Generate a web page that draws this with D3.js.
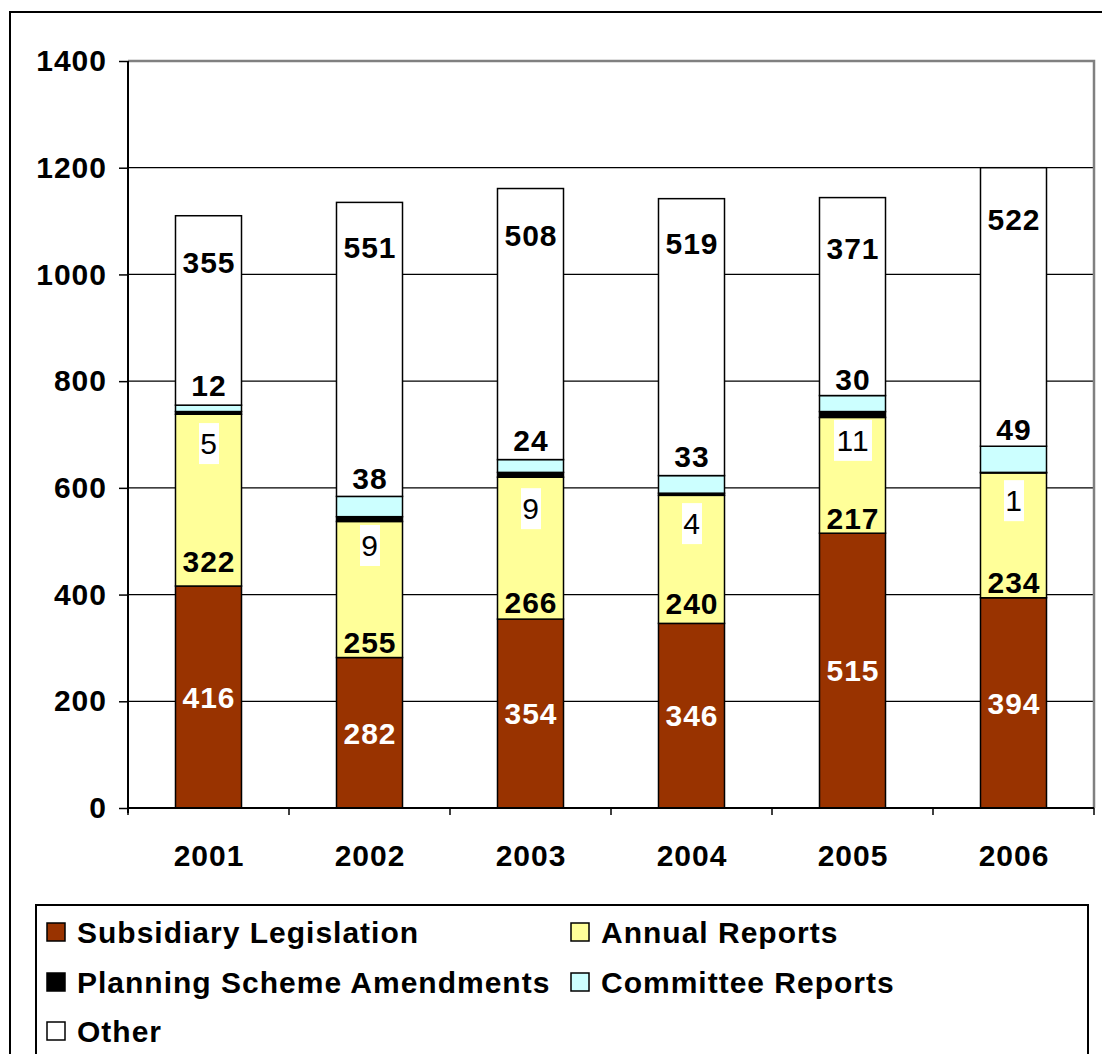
<!DOCTYPE html>
<html><head><meta charset="utf-8">
<script src="https://cdn.jsdelivr.net/npm/d3@7"></script>
<style>body{margin:0;background:#fff}svg{display:block}text{font-family:"Liberation Sans",Arial,sans-serif;letter-spacing:1px}</style>
</head><body><svg id="c" width="1102" height="1054"></svg>
<script>
const years = ["2001","2002","2003","2004","2005","2006"];
const seriesNames = ["Subsidiary Legislation","Annual Reports","Planning Scheme Amendments","Committee Reports","Other"];
const subsidiary = [416,282,354,346,515,394];
const annual = [322,255,266,240,217,234];
const planning = [5,9,9,4,11,1];
const committee = [12,38,24,33,30,49];
const other = [355,551,508,519,371,522];
// label anchor values (data units) as placed in the original chart
const annualLabelAt = [462,311,385,383,544,424];
const planningLabelAt = [683,492,561,533,689,576];
const committeeLabelAt = [792,619,689,659,803,709];
const otherLabelAt = [1023,1051,1073,1058,1049,1103];
const yTicks = [0,200,400,600,800,1000,1200,1400];
const colors = ["#993300","#FFFF99","#000000","#CCFFFF","#FFFFFF"];

const FS = 30;
const svg = d3.select("#c");
const m = {l:128, t:61, r:1094, b:808};
const x = d3.scaleBand().domain(years).range([m.l, m.r]).paddingInner(0.59).paddingOuter(0.295);
const xb = d3.scaleBand().domain(years).range([m.l, m.r]);
const y = d3.scaleLinear().domain([0,1400]).range([m.b, m.t]);

// outer frame
svg.append("rect").attr("x",10).attr("y",12).attr("width",1110).attr("height",1100)
  .attr("fill","#fff").attr("stroke","#000").attr("stroke-width",2);

// gridlines
svg.append("g").selectAll("line").data(yTicks.filter(d=>d>0&&d<1400)).join("line")
  .attr("x1",m.l).attr("x2",m.r).attr("y1",d=>y(d)).attr("y2",d=>y(d))
  .attr("stroke","#000").attr("stroke-width",1.2);
// plot border top/right (gray)
svg.append("path").attr("d",`M${m.l},${y(1400)}H${m.r}V${m.b}`).attr("fill","none")
  .attr("stroke","#808080").attr("stroke-width",2.5);

// stacked data
const table = years.map((yr,i)=>({year:yr, s0:subsidiary[i], s1:annual[i], s2:planning[i], s3:committee[i], s4:other[i]}));
const stack = d3.stack().keys(["s0","s1","s2","s3","s4"])(table);
const g = svg.append("g");
stack.forEach((layer,k)=>{
  g.selectAll(null).data(layer).join("rect")
    .attr("x",d=>x(d.data.year)).attr("width",x.bandwidth())
    .attr("y",d=>y(d[1])).attr("height",d=>y(d[0])-y(d[1]))
    .attr("fill",colors[k]).attr("stroke","#000").attr("stroke-width",1.5);
});

// axes
const yAxis = svg.append("g").attr("transform",`translate(${m.l},0)`)
  .call(d3.axisLeft(y).tickValues(yTicks).tickFormat(d3.format("d")).tickSize(9).tickPadding(12));
yAxis.select(".domain").attr("stroke","#000").attr("stroke-width",2).attr("d",`M0,${m.t}V${m.b+5}`);
yAxis.selectAll(".tick line").attr("stroke","#000").attr("stroke-width",1.5);
yAxis.selectAll("text").attr("font-size",FS).attr("font-weight","bold").attr("fill","#000")
  .attr("font-family",null);

const bounds = years.map(d=>xb(d)).concat([m.r]);
svg.append("line").attr("x1",m.l).attr("x2",m.r).attr("y1",m.b).attr("y2",m.b).attr("stroke","#000").attr("stroke-width",2);
svg.append("g").selectAll("line").data(bounds).join("line")
  .attr("x1",d=>d).attr("x2",d=>d).attr("y1",m.b).attr("y2",m.b+7).attr("stroke","#000").attr("stroke-width",1.5);
svg.append("g").selectAll("text").data(years).join("text")
  .attr("x",d=>xb(d)+xb.bandwidth()/2+0.5).attr("y",855).attr("dy","0.35em")
  .attr("text-anchor","middle").attr("font-size",FS).attr("font-weight","bold").text(d=>d);

// labels
const lab = svg.append("g");
const cx = d=>x(d)+x.bandwidth()/2+0.5;
function labels(vals, at, opt){
  vals.forEach((v,i)=>{
    const yy = y(at[i]);
    if(opt.bg){
      const w = String(v).length*18+2;
      lab.append("rect").attr("x",cx(years[i])-w/2).attr("y",yy-20.5).attr("width",w).attr("height",41).attr("fill","#fff");
    }
    lab.append("text").attr("x",cx(years[i])).attr("y",yy).attr("dy","0.36em")
      .attr("text-anchor","middle").attr("font-size",FS)
      .attr("font-weight",opt.bold?"bold":"normal").attr("fill",opt.fill).text(v);
  });
}
labels(subsidiary, subsidiary.map(v=>v/2), {bold:true, fill:"#fff"});
labels(annual, annualLabelAt, {bold:true, fill:"#000"});
labels(planning, planningLabelAt, {bold:false, fill:"#000", bg:true});
labels(committee, committeeLabelAt, {bold:true, fill:"#000"});
labels(other, otherLabelAt, {bold:true, fill:"#000"});

// legend
svg.append("rect").attr("x",36).attr("y",905).attr("width",1052).attr("height",200)
  .attr("fill","#fff").attr("stroke","#000").attr("stroke-width",2);
const legPos = [[47,932],[571,932],[47,982],[571,982],[47,1031]];
const lg = svg.append("g").selectAll("g").data(seriesNames).join("g")
  .attr("transform",(d,i)=>`translate(${legPos[i][0]},${legPos[i][1]})`);
lg.append("rect").attr("x",0).attr("y",-9).attr("width",18).attr("height",18)
  .attr("fill",(d,i)=>colors[i]).attr("stroke","#000").attr("stroke-width",1.5);
lg.append("text").attr("x",30).attr("y",0).attr("dy","0.36em").attr("font-size",FS)
  .attr("font-weight","bold").text(d=>d);
</script></body></html>
